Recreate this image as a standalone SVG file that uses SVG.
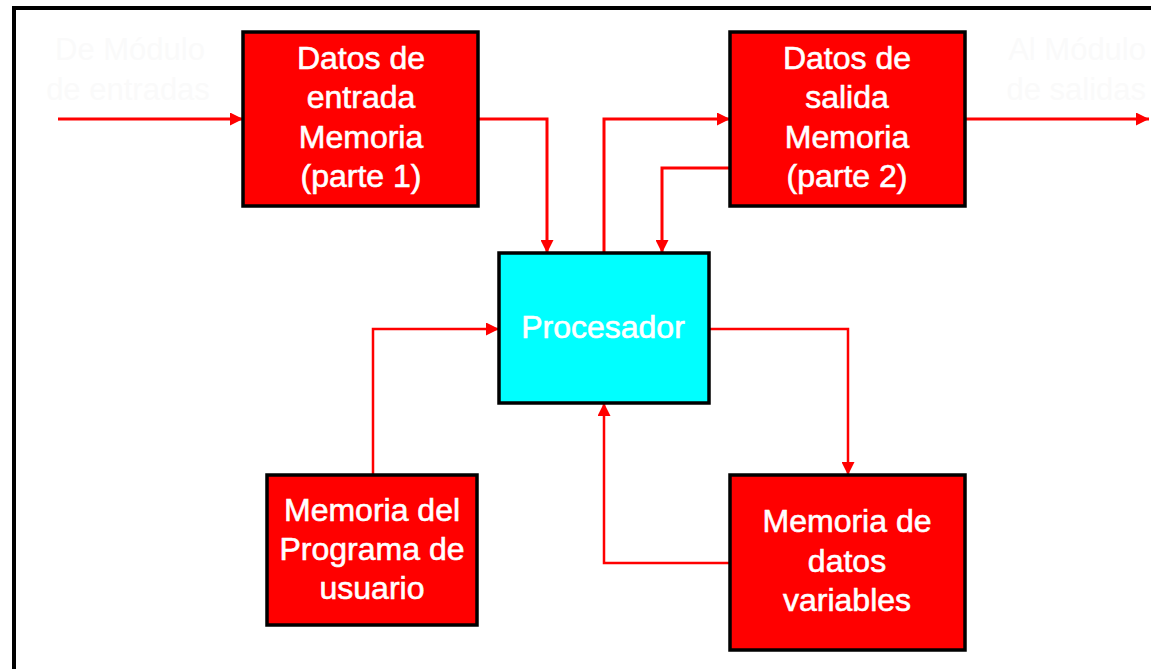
<svg xmlns="http://www.w3.org/2000/svg" width="1151" height="669" viewBox="0 0 1151 669">
  <style>
    .frame { fill: none; stroke: #000; stroke-width: 4; }
    .mem { fill: #ff0000; stroke: #000; stroke-width: 3.5; }
    .cpu { fill: #00ffff; stroke: #000; stroke-width: 3.5; }
    .label { font-family: "Liberation Sans", Arial, sans-serif; font-size: 32px; fill: #ffffff; stroke: #ffffff; stroke-width: 0.6; text-anchor: middle; }
    .ghost { font-family: "Liberation Sans", Arial, sans-serif; font-size: 31px; fill: #fafafa; }
    .wire { fill: none; stroke: #ff0000; stroke-width: 3; stroke-linejoin: miter; }
    .wire-thin { fill: none; stroke: #ff0000; stroke-width: 2.5; stroke-linejoin: miter; }
  </style>
  <defs>
    <marker id="arrow" viewBox="0 0 10 10" refX="10" refY="5" markerUnits="userSpaceOnUse" markerWidth="16" markerHeight="13" orient="auto">
      <path d="M0,0 L10,5 L0,10 Z" fill="#ff0000"/>
    </marker>
  </defs>

  <rect width="1151" height="669" fill="#ffffff"/>
  <rect class="frame" x="14" y="8" width="1160" height="700"/>

  <!-- faint side captions -->
  <g id="caption-in">
    <text class="ghost" x="130" y="60" text-anchor="middle">De Módulo</text>
    <text class="ghost" x="128" y="100" text-anchor="middle">de entradas</text>
  </g>
  <g id="caption-out">
    <text class="ghost" x="1146" y="60" text-anchor="end">Al Módulo</text>
    <text class="ghost" x="1146" y="100" text-anchor="end">de salidas</text>
  </g>

  <g id="connectors">
    <path class="wire" d="M58,119 H243" marker-end="url(#arrow)"/>
    <path class="wire" d="M478,119 H547 V253" marker-end="url(#arrow)"/>
    <path class="wire" d="M604,253 V119 H730" marker-end="url(#arrow)"/>
    <path class="wire" d="M730,168 H662 V253" marker-end="url(#arrow)"/>
    <path class="wire" d="M965,119 H1149" marker-end="url(#arrow)"/>
    <path class="wire-thin" d="M709,329 H848 V475" marker-end="url(#arrow)"/>
    <path class="wire-thin" d="M730,563 H604 V403" marker-end="url(#arrow)"/>
    <path class="wire-thin" d="M373,475 V329 H499" marker-end="url(#arrow)"/>
  </g>

  <g id="mem-entrada">
    <rect class="mem" x="243" y="32" width="235" height="174"/>
    <text class="label" x="361" y="69">Datos de</text>
    <text class="label" x="361" y="108">entrada</text>
    <text class="label" x="361" y="148">Memoria</text>
    <text class="label" x="361" y="187">(parte 1)</text>
  </g>

  <g id="mem-salida">
    <rect class="mem" x="730" y="32" width="235" height="174"/>
    <text class="label" x="847" y="69">Datos de</text>
    <text class="label" x="847" y="108">salida</text>
    <text class="label" x="847" y="148">Memoria</text>
    <text class="label" x="847" y="187">(parte 2)</text>
  </g>

  <g id="procesador">
    <rect class="cpu" x="499" y="253" width="210" height="150"/>
    <text class="label" x="603" y="338">Procesador</text>
  </g>

  <g id="mem-programa">
    <rect class="mem" x="267" y="475" width="210" height="150"/>
    <text class="label" x="372" y="521">Memoria del</text>
    <text class="label" x="372" y="560">Programa de</text>
    <text class="label" x="372" y="599">usuario</text>
  </g>

  <g id="mem-variables">
    <rect class="mem" x="730" y="475" width="235" height="175"/>
    <text class="label" x="847" y="532">Memoria de</text>
    <text class="label" x="847" y="572">datos</text>
    <text class="label" x="847" y="611">variables</text>
  </g>
</svg>
